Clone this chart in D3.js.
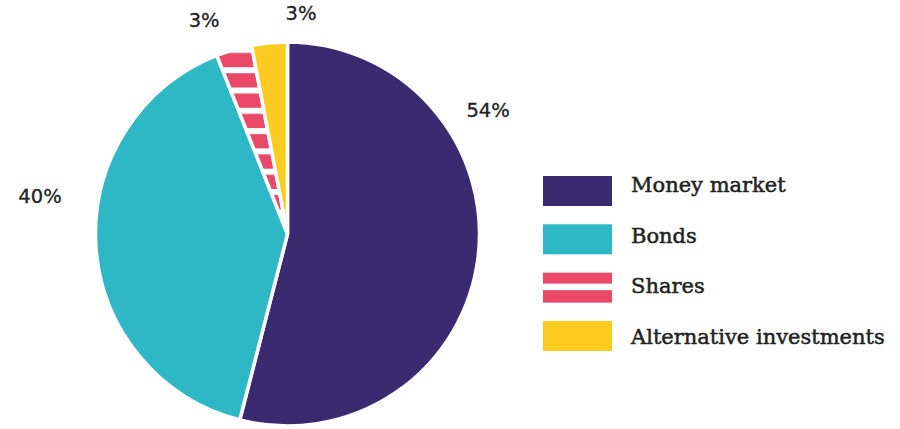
<!DOCTYPE html>
<html>
<head>
<meta charset="utf-8">
<script src="https://cdn.jsdelivr.net/npm/d3@7"></script>
<style>
  body { margin: 0; background: #fff; }
</style>
</head>
<body>
<div id="chart"></div>
<script>
const categories = ["Money market", "Bonds", "Shares", "Alternative investments"]
const shares = [54, 40, 3, 3]
const valueLabels = ["54%", "40%", "3%", "3%"]
const colours = ["#3a2a6f", "#2eb8c5", "#e94868", "#fdcb1f"]

// where each percentage sits: [angle in degrees from 12 o'clock, distance from centre]
const labelSpots = [[58.4, 235.5], [278.6, 250.3], [338.7, 229.4], [3.5, 220.7]]

const width = 900, height = 429
const cx = 287.5, cy = 234, radius = 192

let svg = d3.select("#chart")
  .append("svg")
  .attr("width", width)
  .attr("height", height)

// striped fill for the shares slice
let defs = svg.append("defs")
let stripes = defs.append("pattern")
  .attr("id", "stripes")
  .attr("patternUnits", "userSpaceOnUse")
  .attr("x", 0)
  .attr("y", 56.5)
  .attr("width", 20)
  .attr("height", 20.3)
stripes.append("rect")
  .attr("width", 20).attr("height", 20.3)
  .attr("fill", colours[2])
stripes.append("rect")
  .attr("width", 20).attr("height", 6)
  .attr("fill", "#fff")

let fillFor = i => i == 2 ? "url(#stripes)" : colours[i]

let pieGenerator = d3.pie().sort(null)
let arcData = pieGenerator(shares)

let arcGenerator = d3.arc()
  .innerRadius(0)
  .outerRadius(radius)

let g = svg.append("g")
  .attr("transform", "translate(" + cx + "," + cy + ")")

g.selectAll("path")
  .data(arcData)
  .enter()
  .append("path")
  .attr("d", arcGenerator)
  .attr("fill", (d, i) => fillFor(i))
  .attr("stroke", "#fff")
  .attr("stroke-width", 3.5)
  .attr("stroke-linejoin", "round")

g.selectAll("text")
  .data(arcData)
  .enter()
  .append("text")
  .attr("x", (d, i) => d3.pointRadial(labelSpots[i][0] * Math.PI / 180, labelSpots[i][1])[0])
  .attr("y", (d, i) => d3.pointRadial(labelSpots[i][0] * Math.PI / 180, labelSpots[i][1])[1])
  .attr("text-anchor", "middle")
  .attr("dominant-baseline", "central")
  .attr("font-family", "DejaVu Sans")
  .attr("font-size", 19.5)
  .attr("fill", "#222")
  .attr("stroke", "#222")
  .attr("stroke-width", 0.3)
  .text((d, i) => valueLabels[i])

// legend: swatches and names sit on slightly different steps
let swatchY = d3.scaleBand()
  .domain(categories)
  .range([176, 369.3])

let nameY = d3.scalePoint()
  .domain(categories)
  .range([192.3, 344])

let legend = svg.append("g")

let swatch = legend.selectAll("g")
  .data(categories)
  .enter()
  .append("g")
  .attr("transform", d => "translate(543," + swatchY(d) + ")")

swatch.append("rect")
  .attr("width", 69)
  .attr("height", 30)
  .attr("fill", (d, i) => colours[i])

swatch.filter((d, i) => i == 2)
  .append("rect")
  .attr("y", 11)
  .attr("width", 69)
  .attr("height", 6.5)
  .attr("fill", "#fff")

legend.selectAll("text")
  .data(categories)
  .enter()
  .append("text")
  .attr("x", 631)
  .attr("y", d => nameY(d))
  .attr("font-family", "DejaVu Serif")
  .attr("font-size", 21)
  .attr("fill", "#222")
  .attr("stroke", "#222")
  .attr("stroke-width", 0.5)
  .text(d => d)
</script>
</body>
</html>
